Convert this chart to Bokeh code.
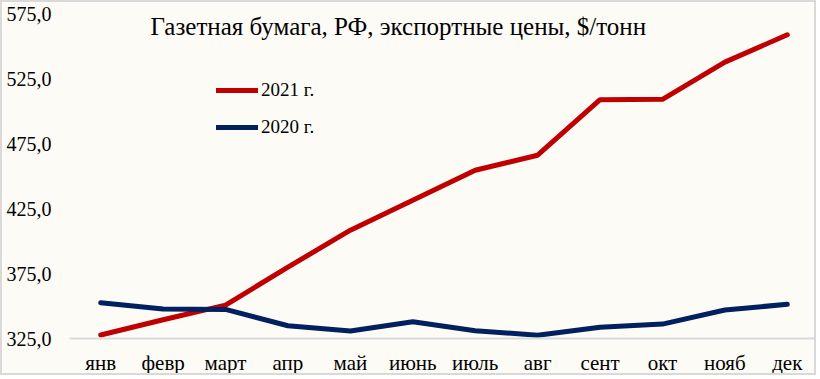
from bokeh.plotting import figure
from bokeh.models import FixedTicker, Legend, LegendItem, Label, Range1d
from bokeh.embed import file_html
from bokeh.resources import INLINE

# ---- data ----
months = ["янв", "февр", "март", "апр", "май", "июнь", "июль", "авг", "сент", "окт", "нояб", "дек"]
prices_2021 = [327.7, 339.4, 350.7, 379.9, 408.3, 431.4, 454.4, 466.0, 508.7, 509.0, 537.6, 558.6]
prices_2020 = [352.5, 347.7, 347.4, 334.8, 330.8, 337.9, 331.0, 327.5, 333.6, 336.1, 346.9, 351.3]
y_ticks = [325, 375, 425, 475, 525, 575]
title_text = "Газетная бумага, РФ, экспортные цены, $/тонн"
series_labels = ["2021 г.", "2020 г."]

FONT = "'Liberation Serif', serif"
BG = "#FCFBF6"
RED = "#C00000"
BLUE = "#002060"

xs = [i + 0.5 for i in range(len(months))]

p = figure(width=816, height=375,
           x_range=Range1d(0, len(months)), y_range=Range1d(y_ticks[0], y_ticks[-1]),
           output_backend="svg", toolbar_location=None,
           min_border_left=67, min_border_right=0, min_border_top=11, min_border_bottom=38,
           background_fill_color=BG, border_fill_color=BG, outline_line_color=None)
p.styles = {"border": "2px solid #D9D9D9"}

p.xgrid.visible = False
p.ygrid.visible = False

# y axis
p.yaxis.ticker = FixedTicker(ticks=y_ticks)
p.yaxis.major_label_overrides = {v: f"{v:.1f}".replace(".", ",") for v in y_ticks}
p.yaxis.axis_line_color = None
p.yaxis.major_tick_line_color = None
p.yaxis.minor_tick_line_color = None
p.yaxis.major_label_standoff = 12
p.yaxis.major_label_text_font = FONT
p.yaxis.major_label_text_font_size = "20px"
p.yaxis.major_label_text_color = "black"

# x axis
p.xaxis.ticker = FixedTicker(ticks=xs)
p.xaxis.major_label_overrides = {x: m for x, m in zip(xs, months)}
p.xaxis.axis_line_color = "#D9D9D9"
p.xaxis.axis_line_width = 2
p.xaxis.major_tick_line_color = None
p.xaxis.minor_tick_line_color = None
p.xaxis.major_label_standoff = 6
p.xaxis.major_label_text_font = FONT
p.xaxis.major_label_text_font_size = "21px"
p.xaxis.major_label_text_color = "black"

r21 = p.line(xs, prices_2021, line_color=RED, line_width=5, line_cap="round", line_join="round")
r20 = p.line(xs, prices_2020, line_color=BLUE, line_width=5, line_cap="round", line_join="round")

legend = Legend(items=[LegendItem(label=series_labels[0], renderers=[r21]),
                       LegendItem(label=series_labels[1], renderers=[r20])],
                location=(147, 200), orientation="vertical",
                glyph_width=42, glyph_height=20, label_height=20, label_standoff=3,
                spacing=15, padding=0, margin=0,
                label_text_font=FONT, label_text_font_size="19px", label_text_color="black",
                border_line_color=None, background_fill_alpha=0)
p.add_layout(legend)

title = Label(x=81, y=312, x_units="screen", y_units="screen", text=title_text,
              text_font=FONT, text_font_size="25px", text_baseline="middle", text_color="black")
p.add_layout(title)

open("out.html", "w").write(file_html(p, INLINE))
